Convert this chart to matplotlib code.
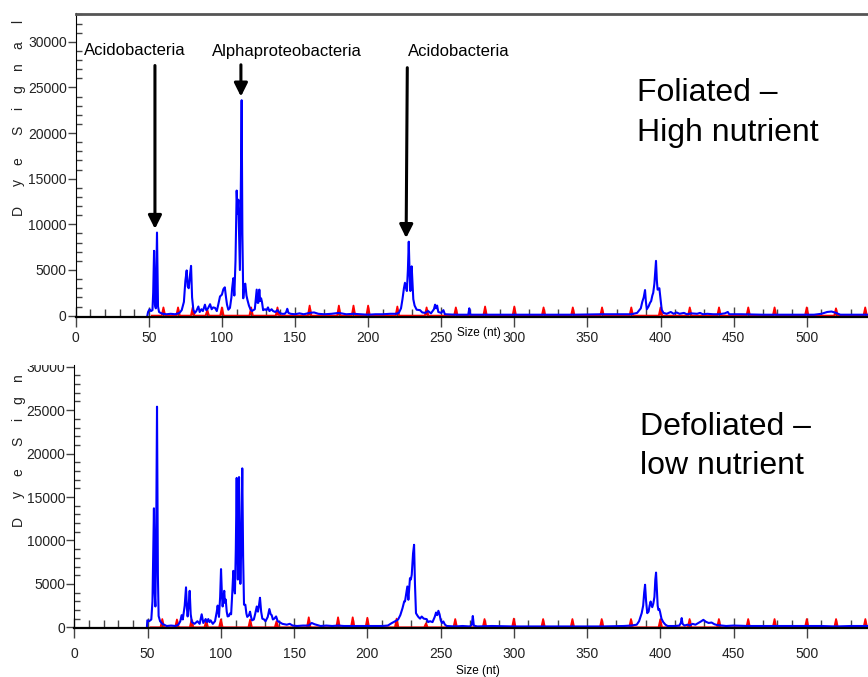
import matplotlib
matplotlib.use('Agg')
import matplotlib.pyplot as plt
from matplotlib.ticker import MultipleLocator
from matplotlib.transforms import Bbox, TransformedBbox

plt.rcParams['font.family'] = ['Liberation Sans', 'DejaVu Sans']

# blue trace, foliated / high nutrient (size nt, dye signal)
top_x = [49.0, 49.5, 50.5, 51.5, 52.5, 53.0, 53.6, 54.2, 54.8, 55.6, 56.3, 57.0, 58.0, 59.5, 62, 65, 68, 71,
         72.5, 74.0, 75.0, 75.9, 76.6, 77.3, 78.2, 78.9, 79.6, 80.5, 81.5, 82.5, 83.9, 84.8, 86.0, 87.0, 88.4,
         89.3, 90.5, 91.9, 93.0, 94.0, 95.3, 96.5, 97.5, 98.7, 100.0, 101.0, 102.0, 102.8, 103.5, 104.4, 105.5,
         106.5, 107.0, 107.8, 108.5, 109.3, 110.1, 110.7, 111.2, 111.7, 112.3, 113.0, 113.5, 114.0, 114.6, 115.3,
         116.0, 116.8, 117.5, 118.5, 119.5, 120.5, 121.5, 122.5, 123.3, 123.8, 124.4, 124.9, 125.6, 126.2, 126.8,
         127.4, 128.2, 129.5, 130.5, 131.5, 132.5, 134.0, 135.0, 136.5, 138.0, 139.5, 141, 143, 144, 144.7,
         145.5, 147, 150, 153, 156, 160, 163, 166, 170, 175, 180, 185, 190, 195, 200, 205, 210, 215, 219, 221,
         222.5, 223.5, 224.5, 225.2, 226.0, 226.5, 227.2, 227.8, 228.4, 228.9, 229.4, 229.8, 230.4, 230.9, 231.8,
         233.2, 235.5, 237, 239, 241, 243, 245, 245.8, 246.5, 247.2, 248.0, 250, 251.5, 252.5, 260, 268.5, 269.2,
         269.9, 280, 300, 320, 340, 360, 380, 384, 386.5, 387.5, 388.5, 389.4, 390.0, 390.6, 391.8, 392.8, 393.6,
         394.4, 395.0, 395.8, 396.4, 396.9, 397.5, 398.0, 398.6, 399.2, 400.0, 400.8, 402.0, 404.2, 407, 409,
         411, 413, 416, 418, 421, 425, 427, 429, 432, 436, 440, 444, 446, 447, 455, 470, 490, 505, 510, 514,
         517, 520, 523, 542]
top_y = [0, 400, 700, 500, 600, 2500, 7100, 1200, 800, 9100, 1000, 400, 300, 200, 150, 200, 150, 300,
         600, 1500, 3800, 4950, 3200, 3000, 4500, 5450, 2000, 600, 300, 500, 1000, 400, 700, 500, 1200,
         600, 800, 1250, 700, 900, 850, 500, 1200, 2100, 2300, 2900, 3100, 2000, 1200, 650, 850,
         2000, 3000, 4100, 2200, 6000, 13700, 11200, 12700, 9000, 5000, 15000, 23600, 9000, 1900, 3300,
         3500, 2200, 1700, 1100, 700, 500, 600, 700, 2000, 2850, 1400, 1400, 2850, 1600, 1900,
         1500, 600, 700, 600, 900, 500, 700, 500, 400, 600, 300, 200, 200, 400, 750,
         300, 200, 150, 250, 150, 300, 350, 200, 150, 200, 300, 150, 200, 150, 100, 150, 150, 200, 200, 300,
         800, 1800, 3000, 3600, 3000, 2700, 5000, 8100, 4500, 2700, 4000, 5400, 3500, 1800, 1100,
         650, 600, 350, 300, 500, 250, 700, 1200, 800, 1100, 400, 300, 600, 150, 100, 100, 800,
         100, 100, 100, 100, 100, 150, 150, 300, 800, 1500, 2000, 2800, 1500, 700, 1000, 1400, 1600,
         2200, 2500, 3500, 4800, 6000, 3800, 2850, 2900, 3000, 1800, 650, 300, 200, 400, 200,
         350, 200, 300, 150, 250, 200, 300, 150, 200, 150, 150, 250, 400, 150, 150, 100, 100, 100, 200, 400,
         450, 300, 100, 100]

# blue trace, defoliated / low nutrient
bot_x = [49.5, 49.8, 51.0, 52.5, 53.3, 54.3, 54.8, 55.3, 55.9, 56.4, 57.0, 57.5, 58.5, 60, 63, 66, 69, 71,
         72.3, 73.2, 74.0, 75.3, 76.2, 76.8, 77.3, 78.0, 78.7, 79.4, 80.2, 82, 84, 85.5, 86.9, 88.0, 89.6, 90.5,
         91.4, 92.2, 93.0, 94.5, 96.0, 97.2, 97.8, 98.7, 99.5, 100.1, 100.7, 101.2, 101.8, 102.3, 102.8, 103.3,
         104.0, 104.6, 105.5, 106.2, 107.0, 107.8, 108.5, 109.1, 109.6, 110.2, 110.8, 111.2, 111.6, 112.0,
         112.4, 112.9, 113.3, 114.0, 114.6, 115.2, 115.8, 116.7, 117.4, 118.0, 119.2, 119.9, 120.6, 121.3,
         122.5, 123.5, 124.5, 125.3, 126.0, 126.7, 127.5, 128.3, 129.5, 130.5, 132.0, 133.1, 134.0, 134.7,
         135.5, 136.5, 137.7, 138.8, 140, 142, 145, 147, 149, 152, 156, 160, 162, 164, 168, 172, 176, 180, 184,
         190, 200, 210, 214, 216.6, 219, 221, 222.5, 224, 225.2, 225.7, 226.5, 227.3, 228.0, 228.6, 229.1,
         229.7, 230.3, 231.2, 231.9, 232.5, 233.2, 234.0, 234.8, 236.0, 237.1, 238.5, 240.5, 241.5, 242.8,
         244.5, 246.0, 246.9, 247.7, 248.5, 249.3, 250.1, 251.0, 251.9, 253.0, 254.2, 260, 265, 270, 271.3,
         272.0, 272.7, 275, 285, 300, 320, 340, 360, 375, 380, 383.9, 385.5, 386.5, 387.3, 388.3, 389.0, 389.6,
         390.3, 391.1, 392.0, 392.7, 393.4, 394.0, 394.5, 395.2, 396.0, 396.6, 397.1, 397.6, 398.2, 398.7,
         399.3, 399.8, 400.8, 402.0, 403.5, 405, 410, 413, 414.0, 414.6, 415.2, 416.5, 418.5, 420, 422, 424,
         426, 428, 429.4, 431, 433, 435, 437, 439, 442, 445, 450, 460, 470, 480, 490, 500, 510, 520, 530, 542]
bot_y = [0, 800, 700, 900, 3000, 13700, 4000, 2400, 12000, 25400, 6000, 1300, 700, 400, 150, 200, 150, 300,
         700, 1400, 900, 2500, 4600, 2200, 1250, 2500, 4200, 1500, 600, 400, 700, 400, 1500, 500, 950, 600,
         950, 600, 800, 400, 700, 1800, 2500, 1200, 3500, 6700, 3800, 2400, 3500, 4200, 2800, 3200,
         1800, 1250, 1300, 1600, 1500, 4000, 6500, 4500, 3900, 9000, 17200, 10000, 5500, 10000,
         17300, 9000, 5000, 10000, 18300, 8000, 2600, 2600, 1600, 1200, 1400, 1800, 1200, 800,
         900, 1600, 2400, 1800, 2500, 3400, 1800, 1000, 900, 700, 1200, 2100, 1500, 1400,
         900, 1000, 1250, 700, 600, 400, 300, 400, 200, 150, 200, 200, 500, 350, 150, 200, 150, 200, 150,
         150, 150, 150, 200, 480, 700, 900, 1400, 2200, 3000, 2970, 3800, 4700, 3170, 4500, 5660,
         5500, 6040, 8500, 9500, 5000, 1630, 1400, 1200, 1000, 1240, 1000, 940, 600, 700,
         600, 1200, 1700, 1400, 1900, 1500, 800, 500, 670, 300, 150, 100, 150, 100, 300,
         1300, 200, 100, 150, 100, 100, 100, 100, 150, 200, 300, 700, 1200, 1630, 2500, 4000, 4900,
         3000, 1630, 1800, 2500, 2970, 2500, 2320, 2700, 3500, 5500, 6300, 4500, 2500, 2000,
         2100, 1800, 1000, 600, 300, 150, 150, 200, 500, 1060, 400, 200, 300, 200, 400, 300,
         500, 700, 860, 650, 500, 550, 350, 250, 200, 150, 200, 150, 150, 150, 150, 150, 150, 100, 150, 150]

# red size standard peaks
ladder_nt = [60, 70, 80, 90, 100, 120, 138, 160, 180, 190, 200, 220, 240, 260, 280, 300, 320, 340,
             360, 380, 400, 420, 440, 460, 478, 500, 520, 540]
ladder_top = [900, 900, 900, 600, 900, 900, 900, 1100, 1100, 1100, 1100, 1000, 900, 900, 1000, 1000, 900, 900,
              900, 900, 900, 900, 900, 900, 900, 900, 800, 900]
ladder_bot = [950, 900, 900, 800, 900, 900, 700, 1150, 1150, 1150, 1100, 1000, 450, 950, 950, 1000, 950, 950,
              950, 950, 900, 950, 950, 950, 950, 950, 950, 950]

W, H = 868, 677
fig = plt.figure(figsize=(W / 100, H / 100), dpi=100)


def px_axes(left, top, right, bottom):
    return fig.add_axes([left / W, 1 - bottom / H, (right - left) / W, (bottom - top) / H])


def ladder_trace(pos, heights):
    xs, ys = [52], [0]
    for p, h in zip(pos, heights):
        xs += [p - 1.2, p, p + 1.2]
        ys += [0, h, 0]
    xs.append(545)
    ys.append(0)
    return xs, ys


def style(ax, xpad):
    ax.xaxis.set_major_locator(MultipleLocator(50))
    ax.xaxis.set_minor_locator(MultipleLocator(10))
    ax.set_yticks(range(0, 30001, 5000))
    ax.yaxis.set_minor_locator(MultipleLocator(1000))
    ax.tick_params(axis='x', which='major', direction='inout', length=15, width=1, color='#444',
                   labelsize=10, labelcolor='#222', pad=xpad)
    ax.tick_params(axis='x', which='minor', direction='in', length=5.5, width=1, color='#444')
    ax.tick_params(axis='y', which='major', direction='out', length=5.5, width=1, color='#444',
                   labelsize=10, labelcolor='#222', pad=1)
    ax.tick_params(axis='y', which='minor', direction='in', length=4, width=1, color='#444')
    ax.spines['right'].set_visible(False)
    ax.spines['left'].set_color('black')
    ax.spines['bottom'].set_linewidth(1.6)
    ax.spines['bottom'].set_color('black')
    ax.set_facecolor('none')


ax1 = px_axes(75.7, 13.5, 868, 317)
ax2 = px_axes(74.4, 365, 868, 628)

for ax, bx, by, lad, xr, yr in [(ax1, top_x, top_y, ladder_top, (0, 541.9), (-150, 33100)),
                                (ax2, bot_x, bot_y, ladder_bot, (0, 541.8), (-80, 30200))]:
    rx, ry = ladder_trace(ladder_nt, lad)
    ax.fill(rx, ry, color='#ff0000', lw=0)
    ax.plot(rx, ry, color='#ff0000', lw=1.3)
    ax.plot(bx, by, color='#0000ff', lw=1.5)
    ax.set_xlim(*xr)
    ax.set_ylim(*yr)

style(ax1, 2.5)
style(ax2, 6)
ax1.spines['top'].set_color('#555')
ax1.spines['top'].set_linewidth(2)
ax2.spines['top'].set_visible(False)

# clip region for the lower panel (its top is cut off)
clip = TransformedBbox(Bbox([[0, 0], [1, 1 - 365 / H]]), fig.transFigure)

# spaced y labels
letters = list('DyeSignal')
offsets = [107, 134, 156, 187, 209, 228, 250, 272, 296]
for ax, bottom_px in [(ax1, 317), (ax2, 628)]:
    for ch, off in zip(letters, offsets):
        t = fig.text(18 / W, 1 - (bottom_px - off) / H, ch, rotation=90, ha='center', va='center',
                     fontsize=10, color='#222')
        if ax is ax2:
            t.set_clip_box(clip)
            t.set_clip_on(True)

for lab in ax2.get_yticklabels():
    lab.set_clip_box(clip)
    lab.set_clip_on(True)

fig.text(479 / W, 1 - 333 / H, 'Size (nt)', ha='center', va='center', fontsize=8.5)
fig.text(478 / W, 1 - 671 / H, 'Size (nt)', ha='center', va='center', fontsize=8.5)

# annotations
arrow = dict(arrowstyle='-|>', color='black', lw=2.2, mutation_scale=20, shrinkA=0, shrinkB=0)
ax1.annotate('', xy=(54.2, 9500), xytext=(54.2, 27400), arrowprops=arrow)
ax1.annotate('', xy=(113.0, 24000), xytext=(113.0, 27480), arrowprops=arrow)
ax1.annotate('', xy=(226.0, 8500), xytext=(226.8, 27160), arrowprops=arrow)
ax1.text(40.6, 29100, 'Acidobacteria', ha='center', va='center', fontsize=12)
ax1.text(144.2, 28950, 'Alphaproteobacteria', ha='center', va='center', fontsize=12)
ax1.text(262.2, 28950, 'Acidobacteria', ha='center', va='center', fontsize=12)

fig.text(637 / W, 1 - 101 / H, 'Foliated \u2013', fontsize=23, va='baseline')
fig.text(637 / W, 1 - 141 / H, 'High nutrient', fontsize=23, va='baseline')
fig.text(640 / W, 1 - 435 / H, 'Defoliated \u2013', fontsize=23, va='baseline')
fig.text(640 / W, 1 - 474 / H, 'low nutrient', fontsize=23, va='baseline')

fig.savefig('out.png', dpi=100)
